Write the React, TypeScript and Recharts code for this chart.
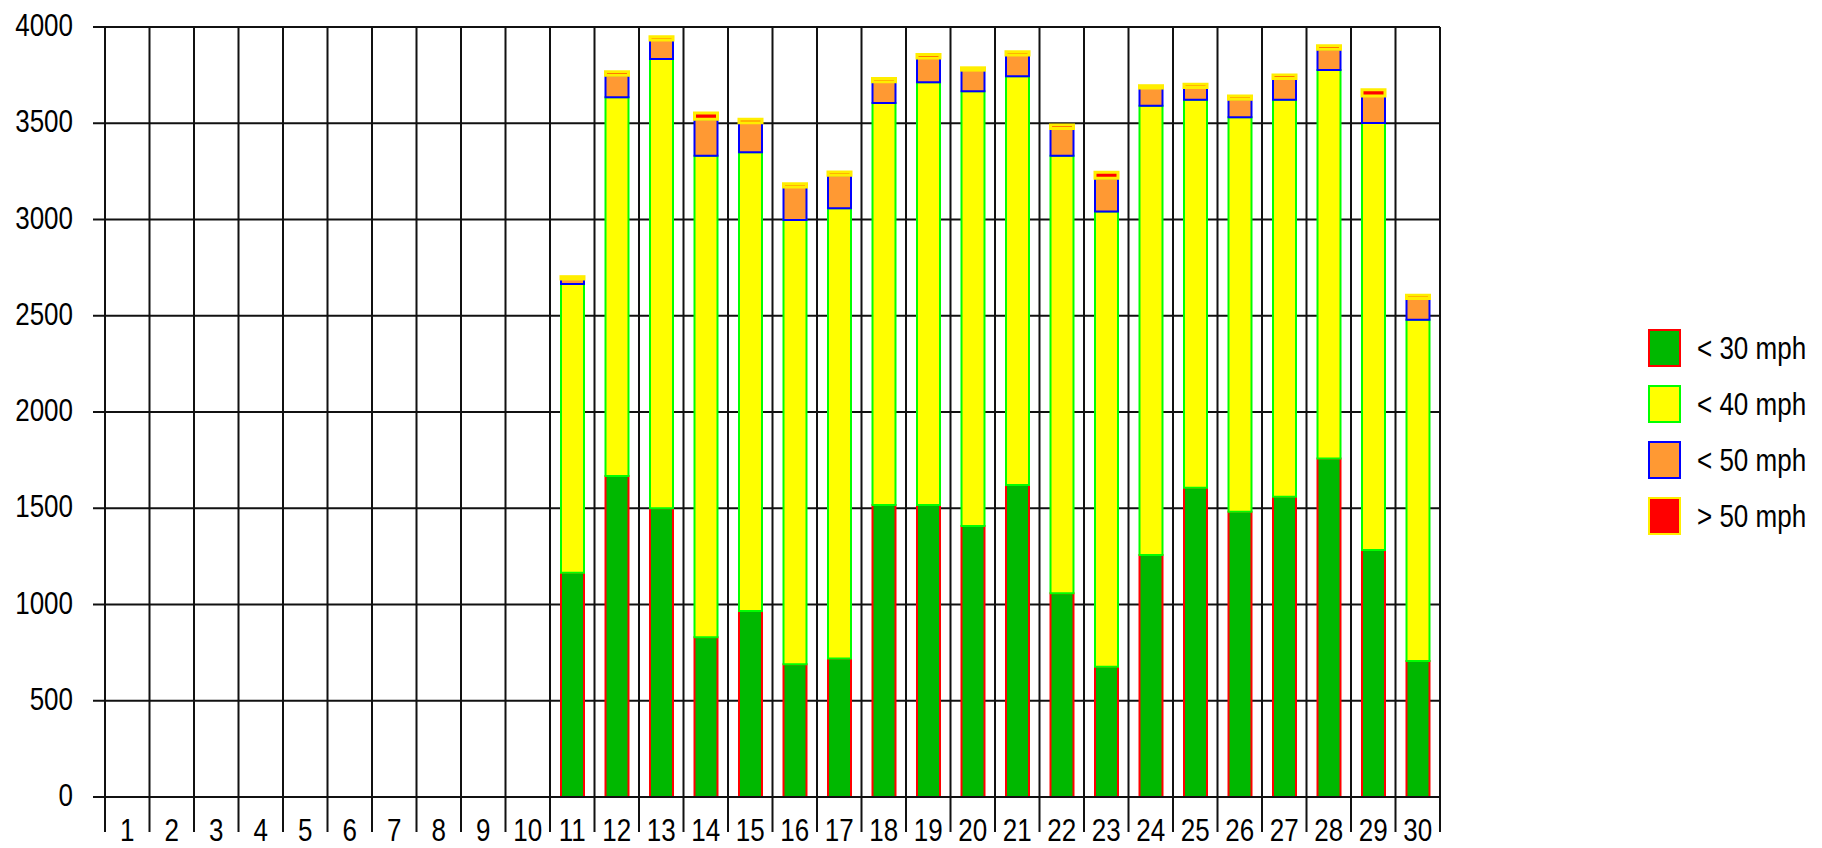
import { Bar, BarChart, CartesianGrid, Legend, ReferenceLine, XAxis, YAxis } from "recharts";

const days = [1, 2, 3, 4, 5, 6, 7, 8, 9, 10, 11, 12, 13, 14, 15, 16, 17, 18, 19, 20, 21, 22, 23, 24, 25, 26, 27, 28, 29, 30];

// counts per day, split by speed band (stacked bottom to top)
const under30 = [0, 0, 0, 0, 0, 0, 0, 0, 0, 0, 1165, 1668, 1500, 830, 966, 689, 720, 1517, 1517, 1408, 1621, 1058, 677, 1257, 1607, 1482, 1560, 1759, 1283, 706];
const under40 = [0, 0, 0, 0, 0, 0, 0, 0, 0, 0, 1500, 1967, 2334, 2501, 2383, 2308, 2338, 2088, 2196, 2258, 2123, 2273, 2365, 2334, 2015, 2049, 2062, 2017, 2218, 1773];
const under50 = [0, 0, 0, 0, 0, 0, 0, 0, 0, 0, 26, 114, 98, 190, 154, 172, 172, 110, 126, 110, 110, 142, 172, 92, 64, 94, 111, 108, 141, 110];
const over50 = [0, 0, 0, 0, 0, 0, 0, 0, 0, 0, 12, 18, 18, 32, 18, 17, 17, 18, 18, 12, 18, 18, 32, 12, 17, 17, 18, 18, 32, 18];

const yTicks = [0, 500, 1000, 1500, 2000, 2500, 3000, 3500, 4000];

const seriesNames = ["< 30 mph", "< 40 mph", "< 50 mph", "> 50 mph"];
const fills = ["#00b800", "#ffff00", "#ff9933", "#ff0000"];
const strokes = ["#ff0000", "#00ff00", "#0000ff", "#ffee00"];

const FONT = "'Liberation Sans', Arial, sans-serif";
const FS = 26;
const STRETCH = 1.18; // the source text is a bit taller than it is wide
const PLOT_H = 770;

const data = days.map((d, i) => ({
  day: d,
  s0: under30[i],
  s1: under40[i],
  s2: under50[i],
  s3: over50[i],
}));

// boundaries between days get a long line, day centres get the label
const xTicks = days.flatMap((d) => [d - 0.5, d]).concat(days.length + 0.5);

function TallText({ x, y, anchor, children }: { x: number; y: number; anchor: string; children: any }) {
  return (
    <text
      transform={`translate(${x},${y}) scale(1,${STRETCH})`}
      textAnchor={anchor}
      fill="#000"
      fontSize={FS}
      fontFamily={FONT}
    >
      {children}
    </text>
  );
}

function DayTick(props: any) {
  const { x, y, payload } = props;
  const v = payload.value as number;
  if (Number.isInteger(v)) {
    return (
      <TallText x={x} y={y + 44} anchor="middle">
        {v}
      </TallText>
    );
  }
  return <line x1={x} x2={x} y1={y - PLOT_H} y2={y + 35} stroke="#111" strokeWidth={2} />;
}

function LeftTick(props: any) {
  const { x, y, payload } = props;
  return (
    <TallText x={x} y={y + 9} anchor="end">
      {payload.value}
    </TallText>
  );
}

function RightTick(props: any) {
  const { x, y, payload } = props;
  return (
    <TallText x={x} y={y + 9} anchor="start">
      {payload.value}
    </TallText>
  );
}

function SpeedLegend() {
  return (
    <div style={{ fontFamily: FONT }}>
      {seriesNames.map((n, i) => (
        <div key={n} style={{ display: "flex", alignItems: "center", height: 56 }}>
          <div
            style={{
              width: 33,
              height: 38,
              boxSizing: "border-box",
              background: fills[i],
              border: `2px solid ${strokes[i]}`,
            }}
          />
          <span
            style={{
              marginLeft: 16,
              fontSize: FS,
              color: "#000",
              whiteSpace: "nowrap",
              display: "inline-block",
              transform: `scaleY(${STRETCH})`,
            }}
          >
            {n}
          </span>
        </div>
      ))}
    </div>
  );
}

export default function App() {
  return (
    <div style={{ position: "absolute", left: 0, top: 0, width: 1822, height: 848, background: "#fff" }}>
      <BarChart width={1822} height={848} data={data} margin={{ top: 27, right: 302, bottom: 0, left: 0 }}>
        <CartesianGrid yAxisId="left" vertical={false} stroke="#111" strokeWidth={2} />
        <XAxis
          dataKey="day"
          type="number"
          domain={[0.5, 30.5]}
          ticks={xTicks}
          interval={0}
          height={51}
          tickSize={0}
          tickMargin={0}
          axisLine={false}
          tickLine={false}
          tick={<DayTick />}
        />
        <YAxis
          yAxisId="left"
          width={105}
          domain={[0, 4000]}
          ticks={yTicks}
          interval={0}
          axisLine={false}
          tickLine={{ stroke: "#111", strokeWidth: 2 }}
          tickSize={12}
          tickMargin={20}
          tick={<LeftTick />}
        />
        <YAxis
          yAxisId="right"
          orientation="right"
          width={80}
          domain={[0, 4000]}
          ticks={yTicks}
          interval={0}
          axisLine={false}
          tickLine={{ stroke: "#111", strokeWidth: 2 }}
          tickSize={12}
          tickMargin={13}
          tick={<RightTick />}
        />
        {["s0", "s1", "s2", "s3"].map((k, i) => (
          <Bar
            key={k}
            yAxisId="left"
            dataKey={k}
            name={seriesNames[i]}
            stackId="speed"
            barSize={23}
            fill={fills[i]}
            stroke={strokes[i]}
            strokeWidth={i === 3 ? 3 : 2}
            isAnimationActive={false}
          />
        ))}
        <ReferenceLine yAxisId="left" y={0} stroke="#111" strokeWidth={2} />
        <Legend
          layout="vertical"
          align="center"
          verticalAlign="middle"
          content={<SpeedLegend />}
          wrapperStyle={{ position: "absolute", left: 1648, top: 320, width: 174, height: 224 }}
        />
      </BarChart>
    </div>
  );
}
